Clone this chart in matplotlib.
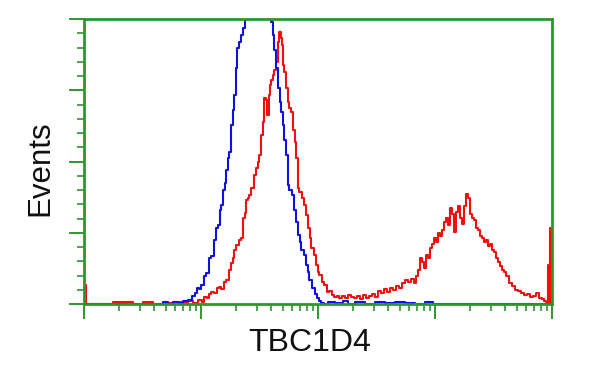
import numpy as np
import matplotlib
matplotlib.use("Agg")
import matplotlib.pyplot as plt
from matplotlib.ticker import MultipleLocator, LogLocator, NullFormatter

# Log channel scale: 468 channels span 4 decades (10^0 .. 10^4)
N_CHANNELS = 468
DECADES = 4
YMAX = 285

# Control (blue) histogram: channel, events
blue_ch = [0, 76, 81, 86, 91, 96, 101, 106, 109, 112, 114, 116, 118, 121, 123, 126, 128,
           131, 133, 135, 136, 138, 140, 141, 143, 144, 146, 148, 149, 151, 152, 154, 156,
           158, 160, 162, 164, 167, 170, 173, 176, 179, 182, 185, 188, 189, 191, 193, 195,
           196, 198, 199, 201, 203, 204, 206, 209, 211, 213, 215, 216, 218, 221, 223, 224,
           226, 229, 232, 234, 236, 238, 241, 246, 256, 261, 266, 276, 286, 296, 306, 316,
           326, 336, 346, 351, 468]
blue_n = [0, 0, 2, 0, 2, 1, 3, 4, 8, 11, 16, 15, 19, 28, 31, 46, 48,
          64, 76, 79, 94, 99, 114, 121, 134, 146, 152, 179, 194, 209, 236, 256, 262,
          269, 276, 290, 300, 315, 330, 340, 335, 325, 310, 295, 282, 269, 254, 236, 216,
          202, 192, 179, 164, 149, 119, 114, 109, 94, 82, 69, 62, 54, 49, 39, 32,
          24, 16, 10, 6, 3, 1, 0, 2, 1, 3, 0, 2, 0, 2, 1, 2,
          1, 0, 2, 0, 0]

# TBC1D4 stained (red) histogram: channel, events
red_ch = [0, 1, 3, 46, 51, 66, 71, 86, 96, 101, 106, 111, 116, 119, 121, 124, 126, 128, 131,
          134, 136, 138, 141, 143, 146, 148, 149, 151, 153, 156, 158, 160, 161, 163, 164,
          166, 168, 171, 173, 174, 176, 178, 179, 181, 182, 184, 185, 186, 188, 189, 191,
          193, 194, 196, 197, 198, 199, 201, 203, 204, 206, 208, 210, 211, 213, 214, 216,
          219, 221, 223, 225, 226, 228, 231, 233, 234, 236, 239, 241, 244, 246, 249, 251,
          254, 256, 259, 262, 265, 268, 271, 274, 277, 280, 283, 286, 289, 292, 295, 298,
          301, 304, 307, 310, 313, 316, 319, 322, 325, 328, 331, 333, 335, 337, 339, 341,
          343, 345, 347, 349, 351, 353, 355, 357, 359, 361, 363, 365, 367, 369, 371, 373,
          375, 377, 379, 381, 383, 385, 387, 389, 391, 393, 395, 397, 399, 401, 403, 405,
          407, 409, 411, 413, 415, 417, 419, 421, 423, 426, 429, 432, 435, 438, 441, 444,
          447, 450, 453, 456, 459, 461, 463, 464, 465, 466, 467]
red_n = [19, 19, 0, 2, 0, 2, 0, 1, 2, 1, 3, 1, 4, 2, 7, 6, 10, 12, 11,
         16, 17, 15, 22, 24, 34, 41, 46, 54, 59, 64, 66, 86, 91, 104, 106,
         109, 116, 129, 136, 142, 149, 169, 182, 206, 204, 189, 209, 219, 224, 229, 234,
         242, 262, 272, 266, 259, 239, 232, 216, 202, 196, 192, 174, 162, 146, 116, 112,
         106, 99, 89, 76, 66, 56, 49, 39, 32, 29, 22, 19, 12, 13, 9, 7,
         8, 6, 8, 6, 9, 7, 6, 8, 5, 9, 6, 8, 10, 7, 13, 11,
         15, 12, 16, 14, 18, 16, 21, 24, 22, 25, 21, 28, 34, 46, 42, 36,
         49, 46, 56, 60, 66, 62, 71, 68, 74, 82, 86, 79, 96, 90, 72, 92,
         98, 86, 80, 98, 110, 106, 90, 86, 84, 76, 74, 68, 66, 62, 64, 58,
         60, 54, 52, 46, 42, 38, 34, 32, 28, 21, 18, 14, 13, 11, 9, 10,
         7, 8, 11, 6, 5, 3, 2, 39, 2, 76, 0]

x_label = "TBC1D4"
y_label = "Events"

GREEN = "#2f962f"
BLUE = "#1010e0"
RED = "#f01010"


def to_intensity(ch):
    return 10.0 ** (np.asarray(ch, dtype=float) * DECADES / N_CHANNELS)


fig = plt.figure(figsize=(6, 3.75), dpi=100)
ax = fig.add_axes([84 / 600, 1 - 304 / 375, 468 / 600, 285 / 375])

ax.step(to_intensity(blue_ch), blue_n, where="mid", color=BLUE, lw=1.5, zorder=3)
ax.step(to_intensity(red_ch), red_n, where="mid", color=RED, lw=1.5, zorder=2)

ax.set_xscale("log")
ax.set_xlim(1, 1e4)
ax.set_ylim(0, YMAX)

ax.xaxis.set_major_locator(LogLocator(base=10, numticks=10))
ax.xaxis.set_minor_locator(LogLocator(base=10, subs=np.arange(2, 10), numticks=20))
ax.xaxis.set_major_formatter(NullFormatter())
ax.xaxis.set_minor_formatter(NullFormatter())
ax.yaxis.set_major_locator(MultipleLocator(YMAX / 4))
ax.yaxis.set_minor_locator(MultipleLocator(YMAX / 20))
ax.yaxis.set_major_formatter(NullFormatter())

ax.tick_params(which="major", length=11, width=1.4, color=GREEN, direction="out")
ax.tick_params(which="minor", length=5, width=1.2, color=GREEN, direction="out")
ax.tick_params(top=False, right=False)

for s in ax.spines.values():
    s.set_color(GREEN)
    s.set_linewidth(2.0)
    s.set_zorder(5)

fig.text(310 / 600, 1 - 343 / 375, x_label, ha="center", va="center",
         fontsize=23, family="Liberation Sans", color="#111111")
fig.text(40 / 600, 1 - 168 / 375, y_label, ha="center", va="center", rotation=90,
         fontsize=22.5, family="Liberation Sans", color="#111111")

fig.savefig("out.png", dpi=100, facecolor="white")
